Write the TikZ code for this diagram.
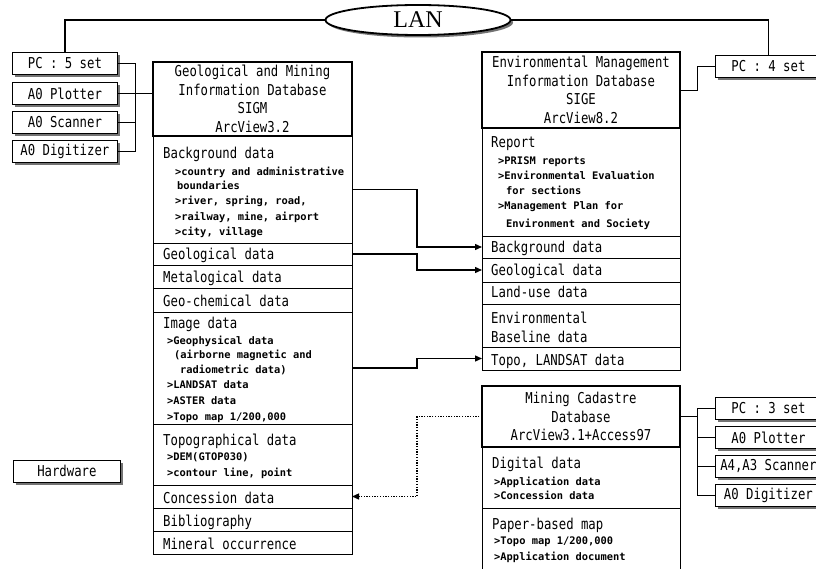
\documentclass[tikz,border=0pt]{standalone}
\usepackage{fontspec}
\usetikzlibrary{arrows.meta,shadows,shapes.geometric}
\newfontfamily\monof[FakeStretch=0.82]{DejaVu Sans Mono}
\newfontfamily\monos{DejaVu Sans Mono}
\newfontfamily\serf{Liberation Serif}
\newcommand\bigtxt{\monof\fontsize{15}{18.5}\selectfont}
\newcommand\smtxt{\monos\bfseries\fontsize{10.4}{12}\selectfont}
\begin{document}
\begin{tikzpicture}[x=1pt,y=-1pt,
  sec/.style={draw, line width=0.8pt, inner sep=0pt, outer sep=0pt, anchor=north west},
  headbox/.style={sec, line width=2.2pt, font=\bigtxt, align=center},
  hw/.style={draw, fill=white, line width=0.8pt, inner sep=0pt, anchor=north west,
    minimum width=106pt, minimum height=22pt, font=\bigtxt,
    drop shadow={shadow xshift=2.5pt, shadow yshift=-2.5pt, fill=black!55, opacity=1}},
  hd/.style={anchor=base west, inner sep=0pt, font=\bigtxt},
  sm/.style={anchor=base west, inner sep=0pt, font=\smtxt},
  link/.style={line width=1.3pt},
  arr/.style={link, -{Triangle[length=7pt,width=6pt]}},
  dots/.style={line width=1.3pt, dash pattern=on 1.3pt off 1.4pt, -{Triangle[length=7pt,width=6pt]}}
]
\useasboundingbox (0,0) rectangle (816,569);
\clip (0,0) rectangle (816,569);

% ---------- SIGM database ----------
\node[sec, minimum width=199pt, minimum height=107pt] (sigmBg)   at (153,136) {};
\node[sec, minimum width=199pt, minimum height=22pt]  (sigmGeo)  at (153,243) {};
\node[sec, minimum width=199pt, minimum height=23pt]  (sigmMet)  at (153,265) {};
\node[sec, minimum width=199pt, minimum height=24pt]  (sigmChem) at (153,288) {};
\node[sec, minimum width=199pt, minimum height=112pt] (sigmImg)  at (153,312) {};
\node[sec, minimum width=199pt, minimum height=61pt]  (sigmTopo) at (153,424) {};
\node[sec, minimum width=199pt, minimum height=23pt]  (sigmCon)  at (153,485) {};
\node[sec, minimum width=199pt, minimum height=23pt]  (sigmBib)  at (153,508) {};
\node[sec, minimum width=199pt, minimum height=23pt]  (sigmMin)  at (153,531) {};
\node[headbox, minimum width=199pt, minimum height=74pt] (sigmHead) at (153,62)
  {Geological and Mining\\Information Database\\SIGM\\ArcView3.2};

\node[hd] (t1) at (163,159) {Background data};
\node[sm] (t2) at (175,175.5) {>country and administrative};
\node[sm] (t3) at (177,189.5) {boundaries};
\node[sm] (t4) at (175,204.5) {>river, spring, road,};
\node[sm] (t5) at (175,220.5) {>railway, mine, airport};
\node[sm] (t6) at (175,235.5) {>city, village};
\node[hd] (t7) at (163,260) {Geological data};
\node[hd] (t8) at (163,283) {Metalogical data};
\node[hd] (t9) at (163,306) {Geo-chemical data};
\node[hd] (t10) at (163,328) {Image data};
\node[sm] (t11) at (167,344.5) {>Geophysical data};
\node[sm] (t12) at (174,358.5) {(airborne magnetic and};
\node[sm] (t13) at (180,373.5) {radiometric data)};
\node[sm] (t14) at (167,388.5) {>LANDSAT data};
\node[sm] (t15) at (167,404.5) {>ASTER data};
\node[sm] (t16) at (167,420.5) {>Topo map 1/200,000};
\node[hd] (t17) at (163,445) {Topographical data};
\node[sm] (t18) at (167,460.5) {>DEM(GTOP030)};
\node[sm] (t19) at (167,476.5) {>contour line, point};
\node[hd] (t20) at (163,503) {Concession data};
\node[hd] (t21) at (163,526) {Bibliography};
\node[hd] (t22) at (163,549) {Mineral occurrence};

% ---------- SIGE database ----------
\node[sec, minimum width=198pt, minimum height=108pt] (sigeRep)  at (482,128) {};
\node[sec, minimum width=198pt, minimum height=22pt]  (sigeBg)   at (482,236) {};
\node[sec, minimum width=198pt, minimum height=24pt]  (sigeGeo)  at (482,258) {};
\node[sec, minimum width=198pt, minimum height=22pt]  (sigeLand) at (482,282) {};
\node[sec, minimum width=198pt, minimum height=43pt]  (sigeBase) at (482,304) {};
\node[sec, minimum width=198pt, minimum height=23pt]  (sigeTopo) at (482,347) {};
\node[headbox, minimum width=198pt, minimum height=76pt] (sigeHead) at (482,52)
  {Environmental Management\\Information Database\\SIGE\\ArcView8.2};

\node[hd] (u1) at (491,148) {Report};
\node[sm] (u2) at (498,164.5) {>PRISM reports};
\node[sm] (u3) at (498,179.5) {>Environmental Evaluation};
\node[sm] (u4) at (506,194.5) {for sections};
\node[sm] (u5) at (498,209.5) {>Management Plan for};
\node[sm] (u6) at (506,227.5) {Environment and Society};
\node[hd] (u7) at (491,253) {Background data};
\node[hd] (u8) at (491,276) {Geological data};
\node[hd] (u9) at (491,298) {Land-use data};
\node[hd] (u10) at (491,323) {Environmental};
\node[hd] (u11) at (491,342) {Baseline data};
\node[hd] (u12) at (491,365) {Topo, LANDSAT data};

% ---------- Mining cadastre database ----------
\node[sec, minimum width=198pt, minimum height=61pt] (mcDig)   at (482,447) {};
\node[sec, minimum width=198pt, minimum height=80pt] (mcPaper) at (482,508) {};
\node[headbox, minimum width=198pt, minimum height=61pt] (mcHead) at (482,386)
  {Mining Cadastre\\Database\\ArcView3.1+Access97};

\node[hd] (v1) at (492,468) {Digital data};
\node[sm] (v2) at (494,485.5) {>Application data};
\node[sm] (v3) at (494,499.5) {>Concession data};
\node[hd] (v4) at (492,529) {Paper-based map};
\node[sm] (v5) at (494,544.5) {>Topo map 1/200,000};
\node[sm] (v6) at (494,560.5) {>Application document};

% ---------- hardware ----------
\node[hw, minimum width=105pt] (pc5)   at (12,52)  {PC : 5 set};
\node[hw, minimum width=105pt] (plot5) at (12,82)  {A0 Plotter};
\node[hw, minimum width=105pt] (scan5) at (12,111) {A0 Scanner};
\node[hw, minimum width=105pt] (dig5)  at (12,140) {A0 Digitizer};
\node[hw, minimum width=107pt] (hwlab) at (13,460) {Hardware};
\node[hw] (pc4)   at (715,55)  {PC : 4 set};
\node[hw] (pc3)   at (715,397) {PC : 3 set};
\node[hw] (plot3) at (715,426) {A0 Plotter};
\node[hw] (scan3) at (715,455) {A4,A3 Scanner};
\node[hw] (dig3)  at (715,484) {A0 Digitizer};

% ---------- LAN ----------
\node[ellipse, draw, fill=white, line width=1.8pt, minimum width=185pt, minimum height=30pt,
  inner sep=0pt, font=\serf\fontsize{24}{24}\selectfont,
  drop shadow={shadow xshift=2.5pt, shadow yshift=-2.5pt, fill=black!55, opacity=1}]
  (lan) at (418,20) {LAN};
\draw[link] (lan.west) -| (pc5.north);
\draw[link] (lan.east) -| (pc4.north);

% ---------- hardware links ----------
\draw[line width=0.9pt] (pc5.east) -- ++(18,0) |- (dig5.east);
\draw[line width=0.9pt] (scan5.east) -- ++(18,0);
\draw[line width=0.9pt] (plot5.east) -- (plot5.east -| sigmHead.west);
\draw[line width=0.9pt] (sigeHead.east) -- ++(17,0) |- (pc4.west);
\draw[line width=0.9pt] (pc3.west) -- ++(-18,0) |- (dig3.west);
\draw[line width=0.9pt] (plot3.west) -- ++(-18,0);
\draw[line width=0.9pt] (scan3.west) -- ++(-18,0);
\draw[line width=0.9pt] (mcHead.east) -- ++(17,0);

% ---------- data flows ----------
\draw[arr] (sigmBg.east) -- ++(65,0) |- (sigeBg.west);
\draw[arr] (sigmGeo.east) -- ++(65,0) |- (sigeGeo.west);
\draw[arr] (sigmImg.east) -- ++(65,0) |- (sigeTopo.west);
\draw[dots] (mcHead.west) -- ++(-65,0) |- (sigmCon.east);
\end{tikzpicture}
\end{document}
